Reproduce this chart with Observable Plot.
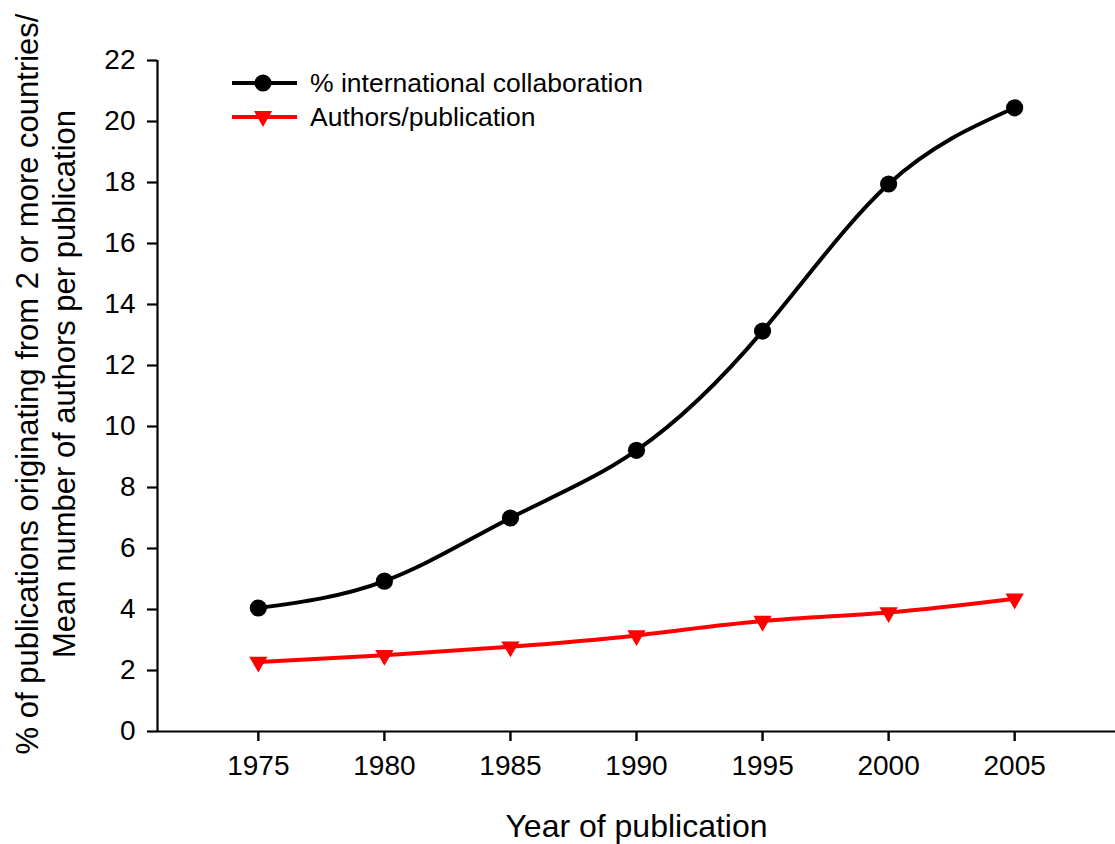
<!DOCTYPE html>
<html>
<head>
<meta charset="utf-8">
<script src="https://cdn.jsdelivr.net/npm/d3@7"></script>
<script src="https://cdn.jsdelivr.net/npm/@observablehq/plot@0.6"></script>
<style>
  body { margin: 0; background: #fff; font-family: "Liberation Sans", Arial, sans-serif; }
  #wrap { position: relative; width: 1115px; height: 844px; }
  #legend { position: absolute; left: 0; top: 0; }
</style>
</head>
<body>
<div id="wrap"></div>
<script>
const years = [1975, 1980, 1985, 1990, 1995, 2000, 2005];
const intlCollab = [4.05, 4.93, 7.0, 9.22, 13.13, 17.95, 20.45];
const authorsPerPub = [2.28, 2.5, 2.78, 3.15, 3.62, 3.9, 4.35];
const yTicks = [0, 2, 4, 6, 8, 10, 12, 14, 16, 18, 20, 22];
const xTicks = [1975, 1980, 1985, 1990, 1995, 2000, 2005];
const seriesNames = ["% international collaboration", "Authors/publication"];
const xTitle = "Year of publication";
const yTitle = "% of publications originating from 2 or more countries/\nMean number of authors per publication";

const black = years.map((x, i) => ({x, y: intlCollab[i]}));
const red = years.map((x, i) => ({x, y: authorsPerPub[i]}));
const font = '"Liberation Sans", Arial, sans-serif';

const chart = Plot.plot({
  width: 1115,
  height: 844,
  marginLeft: 157,
  marginRight: 0,
  marginTop: 60,
  marginBottom: 113,
  style: {fontFamily: font, fontSize: "28px", color: "#000", background: "#fff"},
  x: {domain: [1971, 2009]},
  y: {domain: [0, 22]},
  marks: [
    Plot.axisX({ticks: xTicks, tickFormat: d => String(d), tickSize: 10, tickPadding: 14, stroke: "#000", strokeWidth: 2.4, strokeOpacity: 1, fontSize: 28, label: null}),
    Plot.axisY({ticks: yTicks, tickSize: 10, tickPadding: 12, stroke: "#000", strokeWidth: 2.2, strokeOpacity: 1, fontSize: 28, label: null}),
    Plot.ruleX([1971], {stroke: "#000", strokeWidth: 2.2}),
    Plot.ruleY([0], {stroke: "#000", strokeWidth: 2.2}),
    Plot.line(black, {x: "x", y: "y", stroke: "#000", strokeWidth: 4, curve: "natural"}),
    Plot.dot(black, {x: "x", y: "y", r: 8.6, fill: "#000", stroke: null}),
    Plot.line(red, {x: "x", y: "y", stroke: "#ff0000", strokeWidth: 4, curve: "natural"}),
    Plot.dot(red, {x: "x", y: "y", symbol: "triangle", rotate: 180, r: 6.8, fill: "#ff0000", stroke: null}),
    Plot.text([xTitle], {frameAnchor: "bottom", dy: 95, fontSize: 32, fill: "#000", lineAnchor: "middle"}),
    Plot.text([yTitle], {frameAnchor: "left", dx: -113, dy: -12, rotate: -90, fontSize: 31, lineHeight: 1.2, fill: "#000", lineAnchor: "middle", textAnchor: "middle"})
  ]
});
document.getElementById("wrap").appendChild(chart);

// Legend (HTML overlay)
const ns = "http://www.w3.org/2000/svg";
const leg = document.createElementNS(ns, "svg");
leg.setAttribute("id", "legend");
leg.setAttribute("width", 700);
leg.setAttribute("height", 150);
const items = [
  {name: seriesNames[0], color: "#000", shape: "circle", cy: 83},
  {name: seriesNames[1], color: "#ff0000", shape: "tri", cy: 117}
];
for (const it of items) {
  const l = document.createElementNS(ns, "line");
  l.setAttribute("x1", 232); l.setAttribute("x2", 297);
  l.setAttribute("y1", it.cy); l.setAttribute("y2", it.cy);
  l.setAttribute("stroke", it.color); l.setAttribute("stroke-width", 4);
  leg.appendChild(l);
  if (it.shape === "circle") {
    const c = document.createElementNS(ns, "circle");
    c.setAttribute("cx", 263); c.setAttribute("cy", it.cy); c.setAttribute("r", 8.6);
    c.setAttribute("fill", it.color);
    leg.appendChild(c);
  } else {
    const p = document.createElementNS(ns, "path");
    const cx = 263, cy = it.cy - 1;
    p.setAttribute("d", `M${cx-9},${cy-5}L${cx+9},${cy-5}L${cx},${cy+11}Z`);
    p.setAttribute("fill", it.color);
    leg.appendChild(p);
  }
  const t = document.createElementNS(ns, "text");
  t.setAttribute("x", 310); t.setAttribute("y", it.cy);
  t.setAttribute("dy", "0.35em");
  t.setAttribute("font-family", font);
  t.setAttribute("font-size", 26.5);
  t.setAttribute("fill", "#000");
  t.textContent = it.name;
  leg.appendChild(t);
}
document.getElementById("wrap").appendChild(leg);
</script>
</body>
</html>
